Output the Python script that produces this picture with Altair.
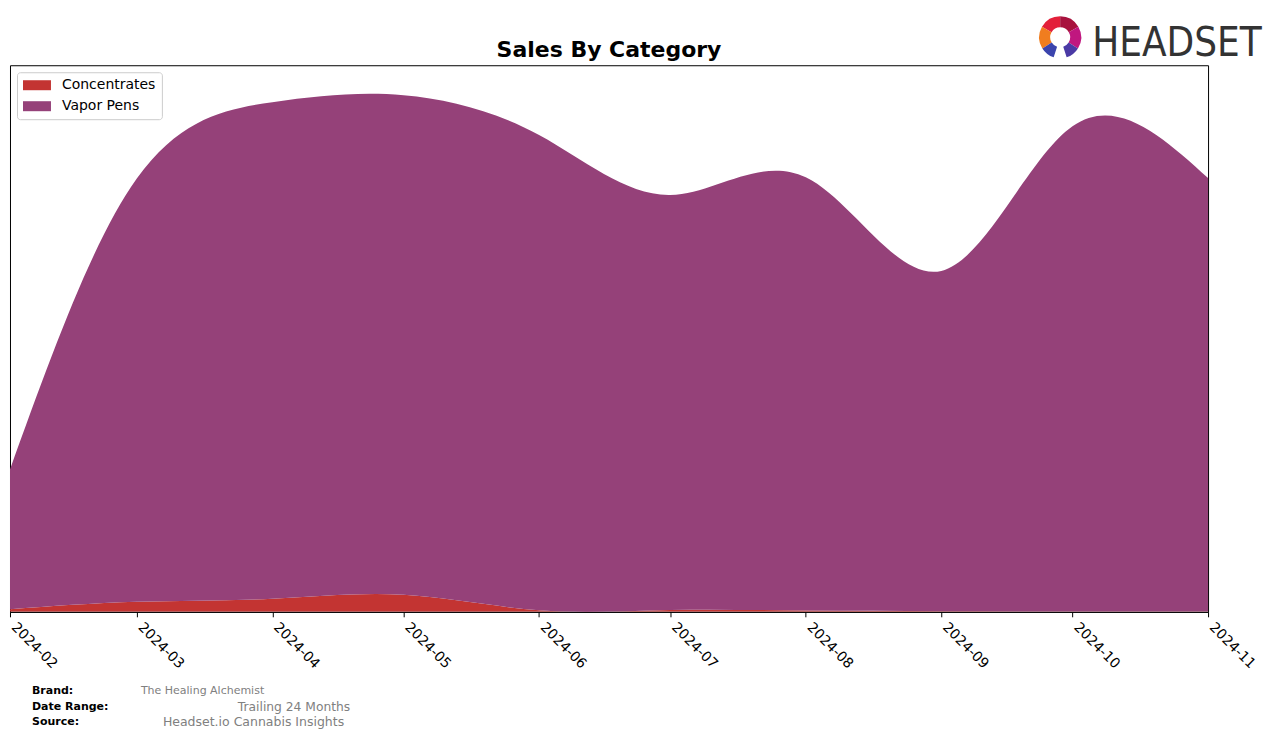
import altair as alt
import pandas as pd
import math

# ---- data ----
months = ["2024-02-01", "2024-03-01", "2024-04-01", "2024-05-01", "2024-06-01",
          "2024-07-01", "2024-08-01", "2024-09-01", "2024-10-01", "2024-11-01"]
categories = ["Concentrates", "Vapor Pens"]
concentrates = [2500, 10000, 13000, 17000, 1500, 1800, 1200, 600, 300, 300]
vapor_pens = [140000, 424000, 497500, 500500, 476000, 415700, 434000, 340900, 486000, 434200]
colors = ["#c33432", "#954179"]

title_text = "Sales By Category"
footer_keys = ["Brand:", "Date Range:", "Source:"]
footer_vals = ["The Healing Alchemist", "Trailing 24 Months", "Headset.io Cannabis Insights"]
logo_text = ["HEADSET"]

rows = []
for i, m in enumerate(months):
    rows.append({"month": m, "category": categories[0], "sales": concentrates[i], "order": 0})
    rows.append({"month": m, "category": categories[1], "sales": vapor_pens[i], "order": 1})
df = pd.DataFrame(rows)

W, H = 1199, 547
FONT = "DejaVu Sans"

x_domain = [alt.DateTime(year=2024, month=2, date=1, utc=True),
            alt.DateTime(year=2024, month=11, date=1, utc=True)]

area = alt.Chart(df).mark_area(interpolate="natural", clip=True).encode(
    x=alt.X("month:T",
            scale=alt.Scale(type="utc", domain=x_domain, nice=False),
            axis=alt.Axis(format="%Y-%m", tickCount={"interval": "month", "step": 1},
                          labelAngle=45, labelAlign="left", labelBaseline="top",
                          title=None, grid=False, tickSize=5, labelPadding=3,
                          labelOffset=8, labelOverlap=False, labelFlush=False)),
    y=alt.Y("sales:Q", stack="zero", scale=alt.Scale(domain=[0, 547500], nice=False), axis=None),
    color=alt.Color("category:N",
                    scale=alt.Scale(domain=categories, range=colors),
                    legend=alt.Legend(title=None, orient="none", legendX=7, legendY=7,
                                      symbolType="M-1.4,-1L4.2,-1L4.2,1L-1.4,1Z", symbolSize=100,
                                      symbolStrokeWidth=0, labelFontSize=14, labelFont=FONT,
                                      labelColor="black", labelOffset=25, rowPadding=7,
                                      padding=6, strokeColor="#cccccc", fillColor="white",
                                      cornerRadius=3, symbolOpacity=1)),
    order=alt.Order("order:Q"),
)

one = pd.DataFrame({"k": [0]})

layers = [area]

# title as text
layers.append(alt.Chart(pd.DataFrame({"t": [title_text]})).mark_text(
    align="center", baseline="alphabetic", fontSize=22, fontWeight="bold", font=FONT, color="black"
).encode(x=alt.value(W / 2), y=alt.value(-8), text="t:N"))

key_pos = [(22, 626), (22, 642), (22, 657)]
val_pos = [(131, 626), (228, 642), (153, 657)]
val_sizes = [11, 12.3, 12.5]
for i in range(3):
    layers.append(alt.Chart(pd.DataFrame({"t": [footer_keys[i]]})).mark_text(
        align="left", baseline="middle", fontSize=11, fontWeight="bold", font=FONT, color="black"
    ).encode(x=alt.value(key_pos[i][0]), y=alt.value(key_pos[i][1]), text="t:N"))
    layers.append(alt.Chart(pd.DataFrame({"t": [footer_vals[i]]})).mark_text(
        align="left", baseline="middle", fontSize=val_sizes[i], font=FONT, color="#808080"
    ).encode(x=alt.value(val_pos[i][0]), y=alt.value(val_pos[i][1]), text="t:N"))

# logo
layers.append(alt.Chart(pd.DataFrame({"t": logo_text})).mark_text(
    align="left", baseline="alphabetic", fontSize=40,
    font="Liberation Sans Narrow, DejaVu Sans Condensed, sans-serif",
    color="#333333"
).encode(x=alt.value(1083), y=alt.value(-9), text="t:N"))

segs = [(300, 360, "#e3203a"), (0, 60, "#a8123e"), (60, 122, "#c0177f"),
        (238, 300, "#f07d1f"), (122, 162, "#4a3aa5"), (198, 238, "#3b44ad")]
for a0, a1, c in segs:
    layers.append(alt.Chart(one).mark_arc(
        theta=math.radians(a0), theta2=math.radians(a1), radius=21, radius2=10, color=c
    ).encode(x=alt.value(1051), y=alt.value(-28)))

chart = alt.layer(*layers).properties(
    width=W, height=H,
    padding={"left": 2, "top": 57, "right": 60, "bottom": 120},
    autosize=alt.AutoSizeParams(type="none"),
).configure_view(stroke="black", strokeWidth=1).configure_axis(
    domainColor="black", tickColor="black", labelColor="black", labelFont=FONT, labelFontSize=14
)

chart.save("out.html", embed_options={"renderer": "svg", "actions": False})
